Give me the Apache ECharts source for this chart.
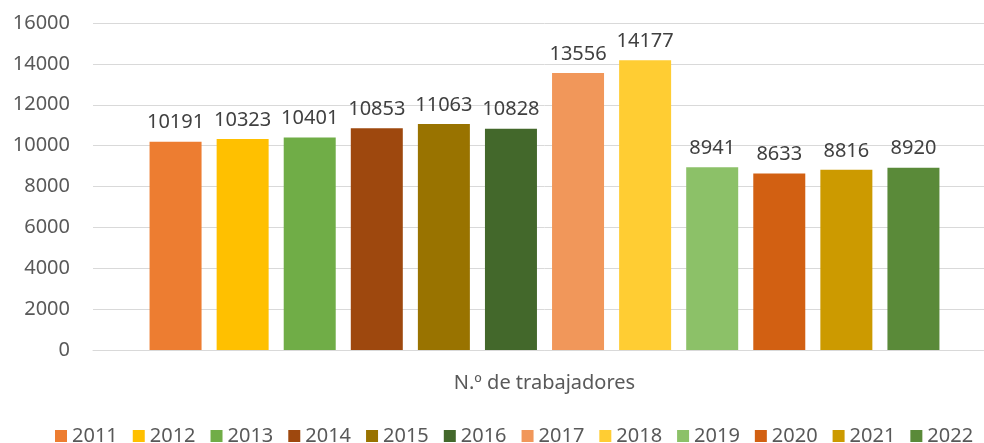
<!DOCTYPE html>
<html>
<head>
<meta charset="utf-8">
<script src="https://cdn.jsdelivr.net/npm/echarts@6/dist/echarts.min.js"></script>
<style>
	html, body { margin: 0; padding: 0; background: #fff; overflow: hidden; }
	/* plot area runs a bit past the right edge, as in the reference */
	#chart { width: 996px; height: 443px; }
</style>
</head>
<body>
<div id="chart"></div>
<script>
// data
var categories = ["N.º de trabajadores"];
var years = ["2011", "2012", "2013", "2014", "2015", "2016", "2017", "2018", "2019", "2020", "2021", "2022"];
var workers = [10191, 10323, 10401, 10853, 11063, 10828, 13556, 14177, 8941, 8633, 8816, 8920];
var yTicks = [0, 2000, 4000, 6000, 8000, 10000, 12000, 14000, 16000];

var colors = [
	"#ED7D31", "#FFC000", "#70AD47", "#9E480E", "#997300", "#43682B",
	"#F1975A", "#FFCD33", "#8CC168", "#D26012", "#CC9A00", "#5A8A39"
];

var font = "Noto Sans";

var myChart = echarts.init(document.getElementById("chart"));

var series = years.map(function (y, i) {
	return {
		name: y,
		type: "bar",
		data: [workers[i]],
		barWidth: 52,
		barGap: "29%",
		itemStyle: {
			color: colors[i],
		},
		label: {
			show: true,
			position: "top",
			distance: 9,
			color: "#404040",
			fontSize: 20,
			fontFamily: font,
		},
	};
});

myChart.setOption({
	animation: false,
	color: colors,
	grid: {
		left: 93,
		top: 23,
		right: 0,
		height: 327,
	},
	legend: {
		left: 50,
		top: 421,
		itemWidth: 12,
		itemHeight: 12,
		itemGap: 15,
		icon: "rect",
		textStyle: {
			color: "#595959",
			fontSize: 20,
			fontFamily: font,
		},
		data: years,
	},
	xAxis: {
		type: "category",
		data: categories,
		axisTick: {
			show: false,
		},
		axisLine: {
			lineStyle: {
				color: "#d9d9d9",
				width: 1,
			},
		},
		axisLabel: {
			color: "#595959",
			fontSize: 20,
			fontFamily: font,
			margin: 23,
		},
	},
	yAxis: {
		type: "value",
		min: yTicks[0],
		max: yTicks[yTicks.length - 1],
		interval: 2000,
		axisLine: {
			show: false,
		},
		axisTick: {
			show: false,
		},
		splitLine: {
			lineStyle: {
				color: "#d9d9d9",
				width: 1,
			},
		},
		axisLabel: {
			color: "#595959",
			fontSize: 20,
			fontFamily: font,
			margin: 23,
			formatter: function (v) {
				return String(v);
			},
		},
	},
	series: series,
});
</script>
</body>
</html>
